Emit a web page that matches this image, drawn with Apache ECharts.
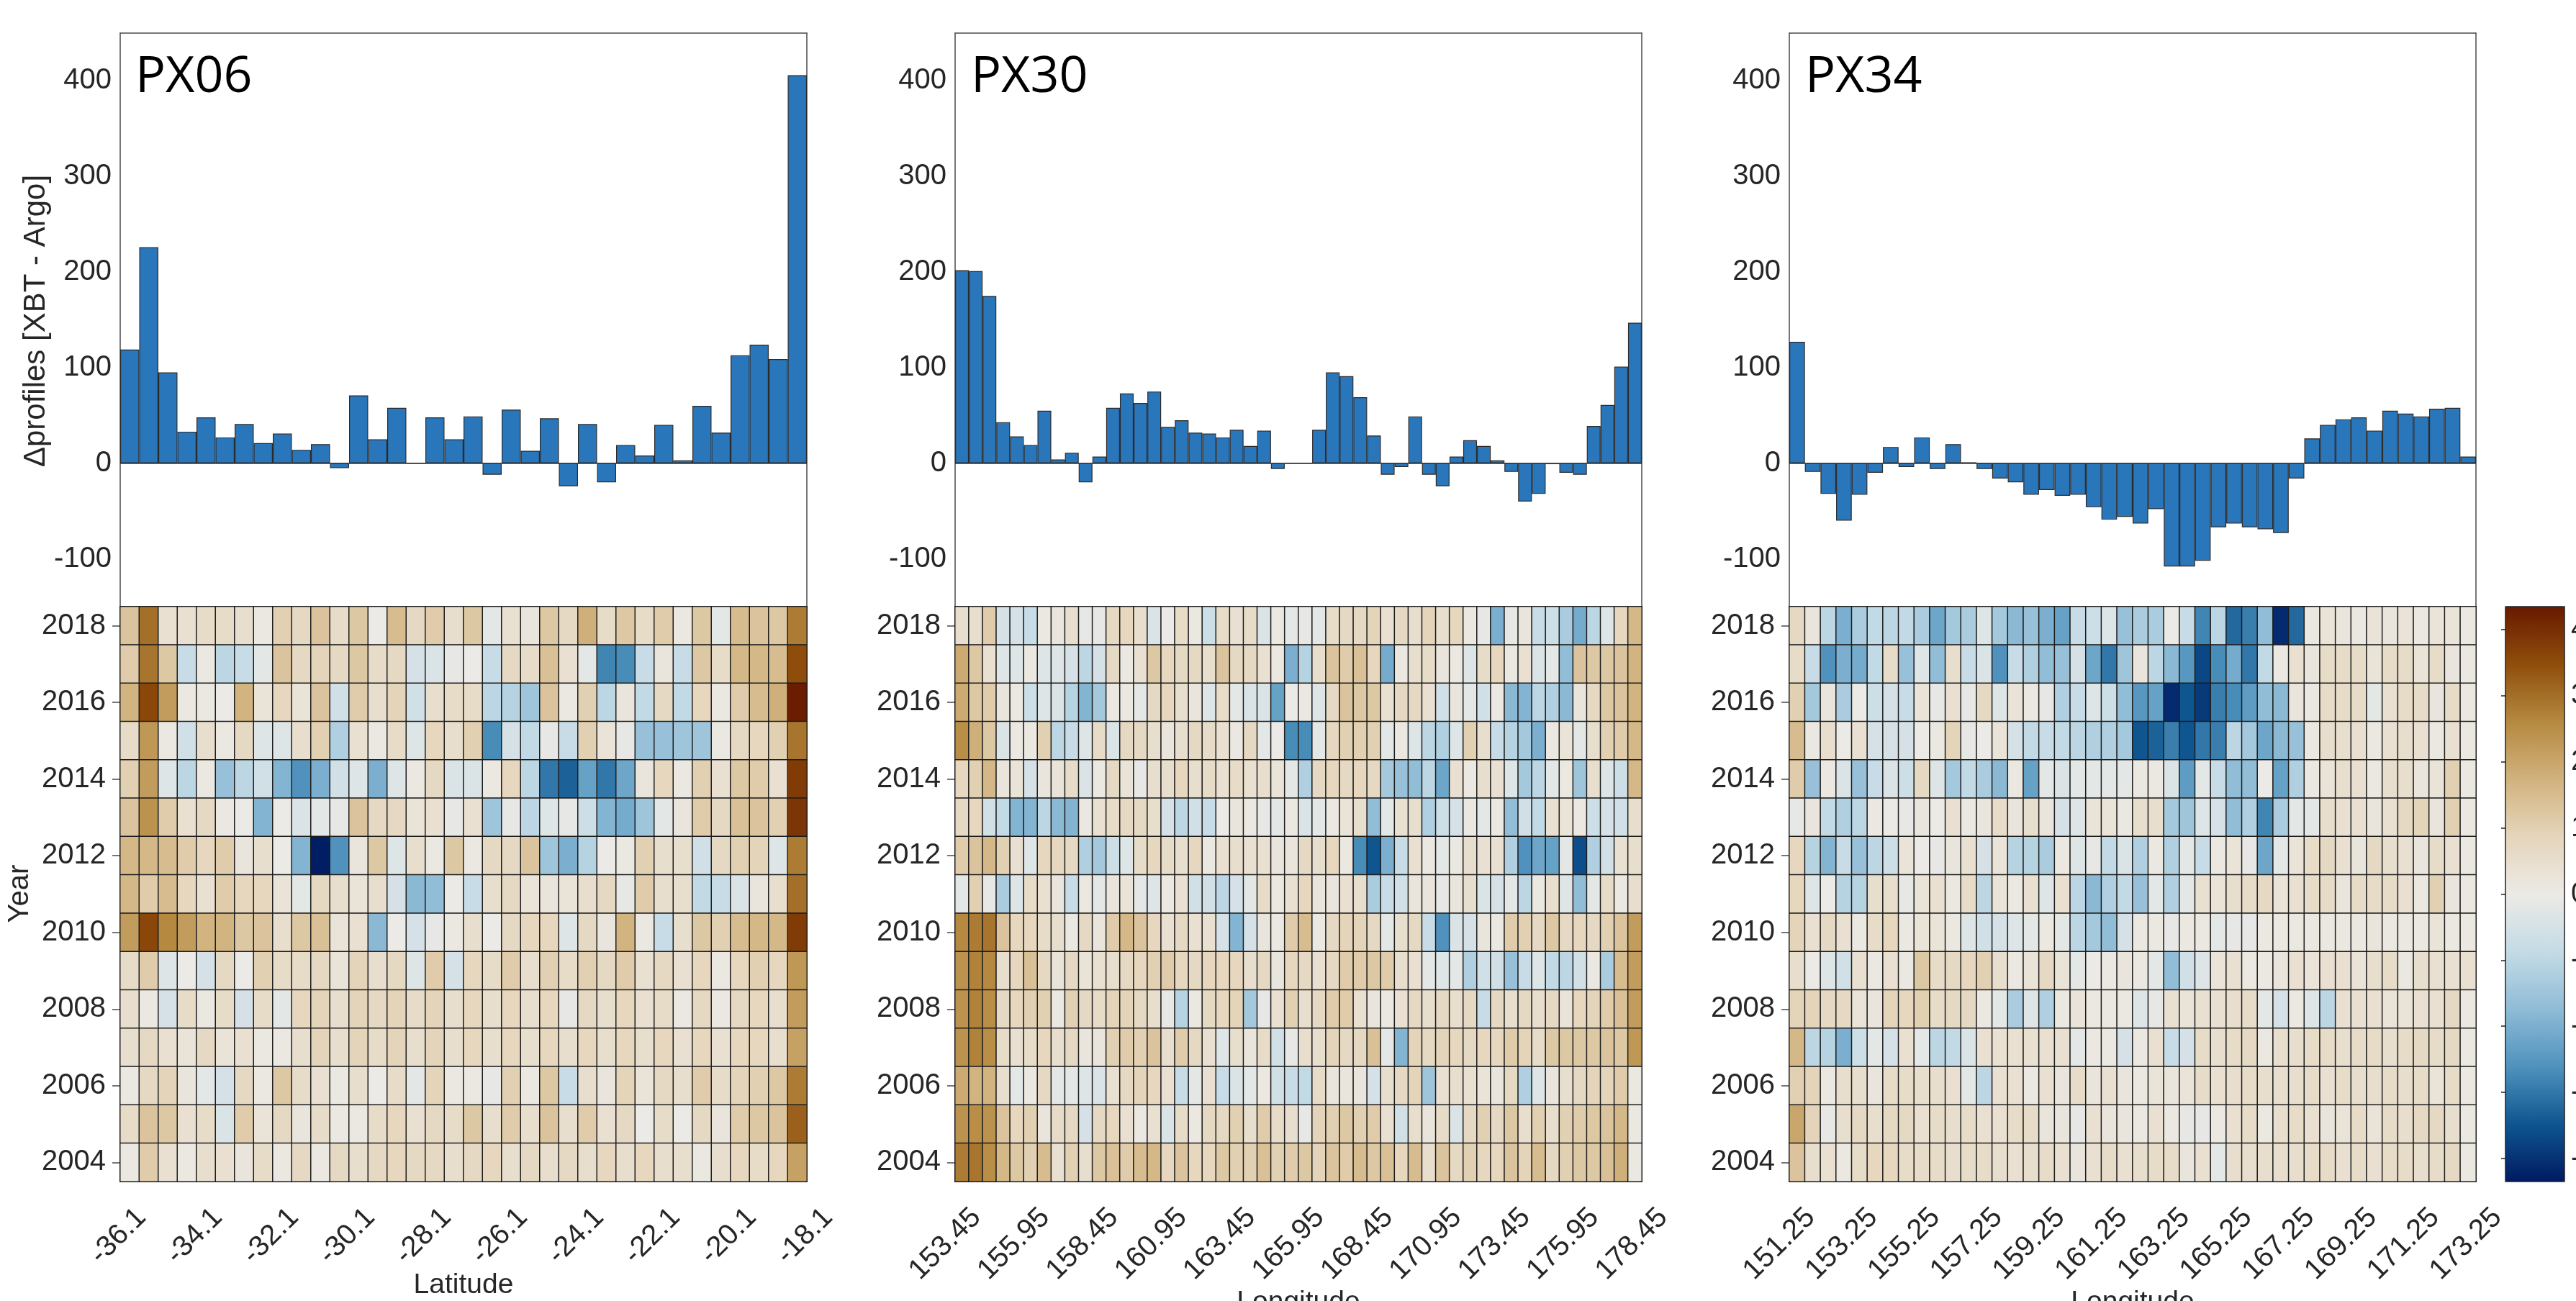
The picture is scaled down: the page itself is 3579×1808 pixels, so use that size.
<!DOCTYPE html>
<html><head><meta charset="utf-8">
<script src="https://cdn.jsdelivr.net/npm/echarts@6/dist/echarts.min.js"></script>
<style>html,body{margin:0;padding:0;background:#fff}#c{width:3579px;height:1808px}</style>
</head><body><div id="c"></div>
<script>
// ---------------- DATA ----------------
const years = [2004,2005,2006,2007,2008,2009,2010,2011,2012,2013,2014,2015,2016,2017,2018];
const px06TickLabels = ['-36.1','-34.1','-32.1','-30.1','-28.1','-26.1','-24.1','-22.1','-20.1','-18.1'];
const px30TickLabels = ['153.45','155.95','158.45','160.95','163.45','165.95','168.45','170.95','173.45','175.95','178.45'];
const px34TickLabels = ['151.25','153.25','155.25','157.25','159.25','161.25','163.25','165.25','167.25','169.25','171.25','173.25'];

// Δprofiles per bin
const px06Bars = [119,226,95,33,48,27,41,21,31,14,20,-5,71,25,58,0,48,25,49,-12,56,13,47,-24,41,-20,19,8,40,3,60,32,113,124,109,406];
const px30Bars = [202,201,175,43,28,19,55,4,11,-20,7,58,73,63,75,38,45,32,31,27,35,18,34,-6,0,0,35,95,91,69,29,-12,-4,49,-12,-24,7,24,18,3,-9,-40,-32,-1,-10,-12,39,61,101,147];
const px34Bars = [127,-9,-32,-60,-33,-10,17,-4,27,-6,20,1,-6,-16,-20,-33,-28,-34,-33,-46,-59,-56,-63,-48,-108,-108,-102,-67,-63,-67,-69,-73,-16,26,40,46,48,34,55,52,49,57,58,7];

// Heat-map anomalies, rows listed from 2018 (top) down to 2004 (bottom)
const px06Heat = [
[1.3,3.0,0.4,0.4,0.6,0.6,0.5,0.1,1.0,0.7,1.3,0.6,1.2,0.0,1.5,0.7,1.1,0.5,1.2,-0.2,0.4,0.2,1.2,0.7,1.8,0.6,1.2,0.6,1.1,0.1,1.2,-0.2,1.5,1.3,1.2,2.8],
[1.1,2.9,1.2,-0.8,0.1,-1.0,-0.8,-0.2,1.3,0.7,0.9,0.7,1.2,0.6,0.7,-0.5,-0.4,-0.1,0.0,-0.8,0.7,0.6,1.4,0.4,-0.2,-2.8,-2.7,-0.8,0.2,-0.8,1.2,0.6,1.6,1.6,1.5,3.5],
[1.7,3.6,2.2,0.1,0.1,0.0,1.7,0.3,0.8,0.3,1.3,-0.6,1.1,0.5,0.9,-0.6,0.5,0.6,0.6,-1.0,-1.1,-1.5,1.3,0.1,1.0,-1.0,0.2,-0.9,0.7,-0.9,0.8,0.1,1.1,1.5,1.8,4.3],
[0.6,2.3,0.1,-0.6,0.5,0.1,0.7,-0.3,-0.3,0.5,1.0,-1.2,0.4,0.1,0.6,-0.3,0.8,0.5,1.0,-2.7,-0.5,-0.9,-0.1,-0.8,1.0,0.3,-0.1,-1.6,-1.6,-1.5,-1.5,0.1,0.7,0.8,1.0,2.9],
[1.0,2.2,-0.3,-1.0,0.1,-1.6,-1.0,-0.6,-1.9,-2.6,-2.0,-0.6,-0.3,-2.0,-0.3,0.1,0.7,-0.4,-0.4,0.1,0.8,-1.0,-3.0,-3.3,-2.3,-3.0,-2.2,0.2,0.8,0.1,1.0,0.4,1.2,1.1,0.4,3.8],
[1.3,2.4,1.1,0.4,0.7,0.1,0.0,-1.9,0.0,-0.4,-0.2,-0.1,1.3,0.7,0.7,0.3,0.4,-0.1,0.4,-1.5,-0.1,-1.0,-0.3,-0.1,-0.7,-1.9,-2.1,-1.5,-0.2,0.2,1.1,0.7,1.4,1.3,1.0,3.9],
[1.6,1.6,1.5,1.1,0.8,1.1,0.2,0.5,0.0,-1.9,-4.3,-2.6,0.2,1.2,-0.3,0.5,0.1,1.2,0.1,0.7,0.7,1.3,-1.5,-2.0,-1.1,0.0,0.1,1.0,0.5,0.5,-0.6,0.7,1.0,0.9,-0.3,2.8],
[1.6,1.1,1.5,0.8,0.4,1.1,0.8,0.8,0.3,-0.2,0.7,0.5,0.3,0.5,-0.5,-1.8,-1.7,0.0,-0.8,0.5,0.7,0.3,0.2,0.3,0.5,0.7,-0.1,1.1,0.5,0.5,-0.9,-0.8,-0.4,0.2,0.5,3.0],
[2.2,3.6,2.6,2.2,1.7,1.7,1.2,1.3,0.5,1.2,1.4,0.3,0.4,-1.8,0.0,-0.5,-0.1,0.1,0.5,0.0,0.7,0.8,0.8,-0.3,0.7,0.2,1.7,0.1,-0.8,0.5,1.2,1.0,1.5,1.6,1.6,3.8],
[0.6,1.1,-0.3,0.0,-0.5,0.7,0.0,1.0,0.6,0.6,0.7,0.3,0.9,0.5,0.7,-0.3,1.1,-0.5,0.8,0.6,1.1,0.5,1.0,0.6,1.0,0.7,1.1,0.4,0.7,0.4,0.8,0.1,0.8,1.0,0.8,2.3],
[0.5,0.1,-0.5,0.6,0.1,0.6,-0.5,0.6,-0.2,0.8,0.9,0.5,0.9,0.7,0.9,0.6,0.9,0.5,0.8,0.5,0.8,0.5,0.8,-0.1,0.7,0.5,0.8,0.4,0.6,0.1,0.7,0.1,0.7,0.8,0.5,2.2],
[0.5,0.7,0.4,0.3,0.7,0.3,0.4,0.1,0.1,0.5,0.9,0.5,0.9,0.6,0.9,0.5,0.9,0.5,0.8,0.5,0.8,0.5,0.8,0.5,0.8,0.5,0.8,0.5,0.8,0.4,0.8,0.4,0.8,0.8,0.5,2.1],
[0.1,0.7,0.9,0.2,-0.2,-0.5,0.7,0.1,1.2,0.6,0.4,0.1,0.5,0.0,0.6,-0.2,0.9,0.1,0.1,-0.1,1.0,0.1,1.2,-0.8,0.5,0.2,0.9,0.3,0.7,0.5,1.1,0.6,0.9,1.0,1.2,2.8],
[0.6,1.3,1.2,0.4,0.6,-0.4,1.1,0.3,0.7,0.2,0.6,0.1,0.1,0.6,0.8,0.4,0.7,0.6,1.2,0.5,1.1,0.5,1.3,0.5,1.1,0.4,0.7,0.0,0.6,0.0,0.7,0.2,1.1,1.2,1.3,3.2],
[0.1,1.1,0.4,0.1,0.5,0.4,0.2,0.6,0.1,0.7,0.1,0.7,0.5,0.7,0.8,0.7,0.7,0.5,0.7,0.8,0.5,0.7,0.5,0.7,0.5,0.8,0.5,0.8,0.5,0.5,0.1,0.5,0.8,0.6,0.8,2.1]
];
const px30Heat = [
[0.5,0.5,1.1,-0.5,-0.5,-0.8,0.1,0.2,0.5,-0.1,-0.1,0.7,0.8,0.5,-0.4,0.0,0.6,0.1,-0.7,0.6,0.4,0.6,-0.4,0.1,-0.2,-0.1,-0.2,0.6,0.7,0.7,0.9,0.4,0.7,0.5,0.9,0.5,0.8,0.1,-0.1,-2.0,-0.1,0.2,-0.8,-0.7,-1.3,-2.1,-1.0,-0.3,0.8,1.6],
[1.9,1.2,0.4,-0.3,-0.3,0.1,-0.3,-0.3,-0.5,-1.0,-0.5,0.7,0.1,0.4,1.2,0.8,0.7,0.7,0.5,1.3,0.7,0.7,0.4,0.1,-2.0,-1.1,0.5,1.3,1.1,1.4,0.8,-2.1,0.1,0.5,0.6,0.2,0.1,-0.3,0.6,0.8,0.1,0.4,-0.4,-0.2,-1.7,1.3,1.2,1.2,1.3,1.7],
[1.9,1.2,1.1,0.2,0.1,-0.7,-0.3,-0.4,-1.1,-1.9,-1.4,0.1,0.1,-0.2,0.7,0.8,0.5,0.2,-0.3,0.6,-0.2,-0.4,-0.4,-2.3,0.0,0.1,-0.3,0.7,1.3,1.2,1.2,0.4,0.7,0.7,0.4,-0.6,0.2,-0.2,-0.6,0.1,-1.8,-1.9,-1.0,-1.2,-1.8,0.2,0.7,1.2,1.3,1.7],
[2.5,1.8,1.2,-0.4,0.1,0.1,1.0,-1.0,-0.8,-0.3,0.6,-0.4,0.7,0.7,0.5,0.2,0.5,0.7,0.6,0.4,0.1,0.7,-0.2,0.0,-2.7,-2.7,-0.2,0.8,1.0,1.0,1.0,-0.2,0.1,-0.3,-1.0,-1.2,-0.3,1.0,0.5,-0.8,-1.1,-1.4,-2.0,0.1,0.3,-0.2,0.5,1.0,1.1,1.6],
[0.8,1.0,1.6,0.2,0.3,-0.5,0.2,0.3,0.6,-0.4,0.1,0.7,0.3,-0.1,0.5,0.5,0.8,0.5,0.6,0.4,0.6,0.4,0.5,0.3,-0.2,-1.2,0.7,0.8,0.7,0.8,0.7,-1.4,-1.6,-1.7,-1.0,-2.2,0.4,0.1,0.5,0.4,-0.3,-1.4,-1.0,-0.2,0.1,-1.5,0.5,-0.3,-0.7,1.6],
[0.7,0.8,-0.6,-0.9,-1.9,-1.9,-1.0,-1.8,-1.9,0.1,0.4,0.6,0.7,0.7,0.5,-0.5,-1.0,-0.6,-0.8,0.0,0.2,0.1,-0.1,-0.2,0.1,-0.4,-0.2,0.1,0.3,0.5,-1.7,-0.2,0.4,0.5,-1.2,-0.7,-0.5,0.1,-0.2,0.1,-1.7,-0.6,-0.9,0.4,0.3,0.1,-0.7,-0.5,-0.6,0.5],
[1.1,1.3,1.6,1.0,0.4,-0.3,0.8,0.8,0.7,-1.2,-1.4,-0.7,-0.3,0.6,0.8,0.6,0.5,0.8,0.1,0.4,0.5,0.4,0.4,0.2,0.2,0.7,0.5,0.8,0.1,-2.7,-3.5,-2.0,-0.8,0.4,0.1,-0.2,0.1,0.5,0.4,0.4,-1.2,-2.6,-2.2,-2.3,-0.2,-3.6,-1.2,-0.6,0.4,0.5],
[-0.2,1.0,-0.1,-1.3,-0.3,0.6,0.4,0.2,-0.8,0.1,-0.2,0.2,0.3,-0.2,-0.3,0.1,0.4,-0.6,-0.6,-1.0,-0.5,-0.2,0.6,0.1,0.4,0.8,0.2,0.2,0.4,0.5,-1.3,-0.8,-0.6,0.2,0.2,-0.1,0.2,0.5,-0.4,-0.5,-0.2,-1.0,0.1,0.5,-0.3,-1.7,-0.2,0.6,0.1,0.5],
[2.6,2.8,2.9,1.3,0.8,0.8,0.6,0.5,0.1,0.7,0.2,1.1,1.6,1.3,0.8,0.4,0.7,0.4,0.4,-0.5,-1.9,-0.5,0.2,0.1,1.1,1.5,0.1,0.7,0.9,0.9,0.7,-0.2,0.5,0.7,-0.8,-2.6,-0.4,-0.5,0.2,0.1,1.1,1.0,0.7,1.2,0.7,0.8,0.7,1.0,1.3,2.2],
[2.4,2.7,2.6,0.5,0.8,1.4,0.7,0.3,0.7,0.3,0.4,0.5,0.7,0.8,1.0,1.1,0.8,0.7,0.8,0.8,0.8,0.5,0.7,0.2,0.8,0.7,0.4,0.7,1.1,1.1,1.2,1.1,0.5,0.4,-0.2,-0.3,-0.2,-1.2,-0.6,-0.6,-1.6,-0.8,-0.3,-0.9,-1.0,-0.6,0.1,-1.3,1.5,2.2],
[2.4,2.7,2.5,0.7,0.8,1.0,1.0,0.1,1.0,0.7,0.6,0.9,0.9,0.7,0.5,-0.1,-1.1,0.1,0.7,0.8,0.9,-1.4,-0.1,0.4,1.0,0.5,0.7,1.1,1.1,0.4,0.2,0.1,0.4,0.7,0.5,0.7,0.5,0.7,-0.8,0.7,0.5,0.7,0.5,0.7,0.3,0.8,0.9,1.1,1.4,2.2],
[2.4,2.7,2.5,0.6,0.4,0.6,0.8,0.5,0.7,0.2,0.2,1.0,1.1,1.0,1.3,0.5,1.1,0.7,0.4,-0.3,0.5,0.2,0.6,-0.6,-0.1,0.5,0.5,0.9,0.7,0.7,1.4,-0.2,-1.9,0.9,0.7,0.9,0.8,0.7,0.8,0.8,1.1,0.9,0.6,1.2,1.2,1.2,1.2,1.3,1.2,2.3],
[1.9,1.7,1.7,0.5,-0.2,0.1,0.7,-0.2,-0.2,-0.3,-0.4,0.4,0.7,0.9,0.8,0.4,-0.8,-0.2,0.4,-0.8,-0.4,-0.2,0.1,-0.6,-0.8,-0.9,0.6,0.2,0.2,0.2,-0.5,0.5,0.7,0.9,-1.5,0.4,0.5,0.4,0.3,0.2,0.7,-1.2,-0.3,0.2,0.5,0.7,0.9,0.9,1.1,0.1],
[2.4,2.5,2.4,1.3,0.8,1.0,0.2,0.6,0.7,-0.5,0.7,0.8,0.4,0.1,0.4,-0.4,0.6,0.1,0.7,0.7,1.0,0.5,1.1,0.6,0.5,-0.1,0.9,1.0,1.2,1.0,1.1,0.4,-0.6,0.5,0.2,0.6,-0.4,0.7,1.0,0.7,1.2,0.5,1.0,0.5,1.0,1.1,1.2,1.3,1.6,0.1],
[2.8,2.9,2.5,1.6,1.2,1.0,1.5,0.4,1.0,0.5,1.2,1.4,1.1,1.5,1.6,0.8,1.3,0.8,0.8,1.2,1.0,1.0,1.4,1.0,1.1,1.2,0.9,1.3,1.1,1.5,1.2,1.4,0.8,1.5,0.5,1.3,0.7,1.0,0.8,0.8,1.3,0.9,1.5,0.7,1.0,1.2,1.2,1.4,1.8,0.1]
];
const px34Heat = [
[0.7,0.2,-1.0,-2.0,-1.3,-0.9,-1.0,-0.9,-1.3,-2.2,-1.4,-1.3,-0.3,-1.4,-1.8,-1.6,-2.0,-2.3,-0.8,-0.7,-0.3,-1.6,-1.3,-1.3,0.0,-0.8,-2.8,-1.0,-3.2,-2.9,-1.7,-4.1,-3.2,0.1,0.3,0.2,0.1,0.3,0.2,0.3,0.1,0.3,0.3,0.1],
[0.6,-0.8,-2.6,-2.0,-2.1,-0.9,0.6,-1.6,-0.3,-1.7,0.5,-0.8,-0.4,-2.6,-0.8,-1.2,-1.7,-1.6,-0.5,-2.2,-3.0,-1.5,0.2,-1.0,-1.8,-2.5,-3.7,-2.7,-2.1,-3.0,-0.9,0.1,0.4,0.2,0.6,0.6,0.6,0.3,0.6,0.6,0.3,0.6,0.2,0.1],
[1.0,-1.4,0.2,-1.3,0.0,-0.7,-0.5,-0.8,0.3,-0.1,0.4,-0.1,0.7,-0.3,0.3,0.1,-0.1,-1.2,-0.8,-0.3,-0.7,-1.7,-2.5,-2.3,-4.1,-3.5,-3.9,-2.9,-2.7,-2.4,-1.7,-1.8,0.2,0.1,0.6,0.6,0.6,-0.2,0.4,0.6,0.6,0.2,0.6,0.1],
[1.5,0.1,0.5,0.0,0.4,-0.5,-0.5,-0.5,0.0,0.1,0.9,-0.1,0.0,0.3,-0.5,-0.9,-0.8,-0.9,-1.0,-1.2,-1.2,-1.4,-3.5,-3.3,-2.9,-3.5,-3.0,-2.9,-1.0,-1.4,-2.2,-1.8,-1.6,0.1,0.5,0.5,0.4,0.1,0.4,0.5,0.4,0.1,0.4,0.1],
[1.1,-1.6,0.1,-0.4,-1.6,-0.8,-0.4,-0.7,0.7,-0.3,-1.4,-0.9,-1.3,-1.8,0.1,-2.3,-0.2,-0.4,-0.2,-0.2,-0.2,-0.2,0.1,0.1,-0.4,-2.4,-0.2,-0.8,-1.7,-1.7,0.0,-2.3,-1.2,0.1,0.3,0.5,0.4,0.1,0.5,0.5,0.2,0.3,1.0,0.1],
[-0.1,0.2,-0.9,-1.2,-1.0,0.1,0.0,-0.1,0.2,0.0,0.4,0.1,0.2,0.6,0.2,0.5,0.2,-0.5,-0.3,0.3,0.3,0.1,0.5,0.5,-1.4,-1.5,-0.3,-0.5,-1.7,-1.2,-2.8,-1.3,-0.2,-0.2,0.5,0.4,0.4,0.2,0.4,0.7,0.9,0.2,1.0,0.1],
[0.8,-1.1,-1.9,-0.8,-1.6,-1.0,-0.7,0.3,0.0,-0.1,0.2,0.4,-0.5,0.3,-1.1,-1.1,-1.3,0.1,-0.3,-0.1,-0.9,-0.4,-1.2,0.1,-1.2,-0.2,-0.8,0.1,0.3,-0.1,-2.2,-0.2,0.3,0.6,0.7,0.4,0.2,0.7,0.5,0.4,0.2,0.6,0.4,0.1],
[0.8,-0.3,0.0,-1.1,-1.1,0.5,0.5,-0.1,0.3,0.4,0.1,0.6,-1.0,0.3,0.1,0.4,-0.3,0.4,-1.0,-1.8,-1.2,-0.9,-1.6,-0.2,-1.2,-0.2,0.4,0.3,0.5,0.6,0.7,0.3,0.4,0.6,0.6,0.2,0.6,0.6,0.6,0.4,0.1,1.0,0.2,0.1],
[0.9,0.4,0.7,0.4,0.1,0.6,0.8,0.1,0.3,0.3,0.1,-0.3,-0.6,-0.5,-0.3,-0.2,0.1,-0.2,-1.0,-1.4,-1.7,-0.5,0.1,0.1,-0.1,0.1,0.1,-0.2,-0.1,-0.1,0.1,0.1,0.1,0.1,0.1,0.1,0.1,0.2,0.1,0.1,0.1,0.3,0.1,0.1],
[0.5,0.0,-0.3,-0.6,0.4,0.1,0.4,0.1,1.2,0.6,0.7,0.8,1.0,0.5,0.1,0.3,0.7,0.3,-0.2,0.0,0.1,0.2,0.1,-0.2,-1.7,-0.6,-0.3,0.3,0.4,0.1,0.1,0.2,0.4,0.3,0.4,0.4,0.3,0.5,0.6,0.1,0.5,0.4,0.4,0.4],
[0.9,0.9,0.7,0.7,0.3,0.2,0.9,0.8,1.0,0.6,0.7,0.7,0.1,-0.2,-1.3,-0.3,-1.2,0.1,0.3,0.1,0.1,0.1,-0.3,-0.1,0.4,0.3,0.4,0.4,0.5,0.6,-0.2,-0.5,0.1,-0.3,-1.0,0.4,0.4,0.4,0.3,0.3,0.4,0.4,0.7,0.1],
[1.6,-1.0,-1.1,-2.0,-0.7,-0.2,-0.5,0.4,-0.2,-1.0,-0.9,-0.4,0.4,0.4,0.4,0.4,0.4,0.4,-0.2,0.1,0.1,-0.5,0.1,0.4,-0.8,-0.5,0.6,0.5,0.6,0.7,0.1,0.5,0.5,0.6,0.6,0.5,0.6,0.6,0.5,0.6,0.7,0.6,0.7,0.1],
[1.0,0.9,0.1,0.5,0.5,0.2,0.6,0.6,0.5,0.5,0.4,-0.2,-1.0,0.4,0.4,0.1,0.4,0.2,0.6,0.2,0.4,0.2,0.1,0.3,0.2,0.3,0.6,0.4,0.5,0.6,0.5,0.5,0.5,0.6,0.4,0.6,0.5,0.5,0.6,0.5,0.6,0.3,0.6,0.1],
[2.0,0.9,-0.1,0.5,0.7,0.5,0.7,0.7,0.4,0.6,0.5,0.6,0.4,0.4,0.6,0.6,0.2,0.2,-0.1,0.4,0.2,0.2,0.1,0.4,0.1,-0.1,-0.1,0.1,0.4,0.6,0.1,0.5,0.6,0.4,0.2,0.3,0.6,0.3,0.6,0.5,0.7,0.7,0.5,0.1],
[1.3,0.5,0.4,0.1,0.6,0.8,0.8,0.6,0.6,0.6,0.5,0.6,0.6,0.5,0.4,0.5,0.6,0.4,0.2,0.4,0.6,0.4,0.5,0.6,0.6,0.2,0.4,-0.2,0.5,0.5,0.5,0.5,0.5,0.6,0.6,0.4,0.6,0.4,0.6,0.6,0.5,0.6,0.7,0.1]
];
const colorTicks = [-4,-3,-2,-1,0,1,2,3,4];

// ---------------- LAYOUT / STYLE ----------------
const FONT = 'Liberation Sans';
const TXT = '#262626';
const AX = '#4a4a4a';
const TICK_FS = 40;
const LEFTS = [167, 1327, 2486];
const W = 954, BAR_TOP = 46, BAR_H = 797, HEAT_TOP = 843, HEAT_H = 799;
const cbarColors = ['#001a61','#0f5690','#4f92bd','#8fbcd6','#c4dbe6','#eceae6','#e5d5bb','#d1b27e','#b5893f','#8f4e0b','#681a00'];

const panels = [
  {bars: px06Bars, heat: px06Heat, ticks: px06TickLabels, step: 2},
  {bars: px30Bars, heat: px30Heat, ticks: px30TickLabels, step: 2.5},
  {bars: px34Bars, heat: px34Heat, ticks: px34TickLabels, step: 2}
];

const grid = [], xAxis = [], yAxis = [], series = [];
const lineStyle = {color: AX, width: 1.5};
const mkGrid = (left, top, width, height) => ({left, top, width, height, containLabel: false, outerBoundsMode: 'none'});

panels.forEach((p, i) => {
  const cats = p.bars.map((_, k) => String(k));
  grid.push(mkGrid(LEFTS[i], BAR_TOP, W, BAR_H));
  const g = grid.length - 1;
  xAxis.push({gridIndex: g, type: 'category', data: cats, position: 'bottom', boundaryGap: true,
    axisLine: {onZero: false, lineStyle}, axisTick: {inside: true, length: 9, interval: 0, lineStyle},
    axisLabel: {show: false}, splitLine: {show: false}});
  xAxis.push({gridIndex: g, type: 'category', data: cats, position: 'top', boundaryGap: true,
    axisLine: {onZero: false, lineStyle}, axisTick: {inside: true, length: 9, interval: 0, lineStyle},
    axisLabel: {show: false}, splitLine: {show: false}});
  yAxis.push({gridIndex: g, type: 'value', min: -150, max: 450, splitNumber: 6, position: 'left',
    axisLine: {show: true, lineStyle}, axisTick: {inside: true, length: 9, lineStyle},
    axisLabel: {fontSize: TICK_FS, fontFamily: FONT, color: TXT, margin: 12, showMinLabel: false, showMaxLabel: false,
      formatter: v => (Math.abs(v % 100) < 1e-6 ? String(v) : '')},
    splitLine: {show: false}});
  yAxis.push({gridIndex: g, type: 'value', min: -150, max: 450, splitNumber: 6, position: 'right',
    axisLine: {show: true, lineStyle}, axisTick: {inside: true, length: 9, lineStyle},
    axisLabel: {show: false}, splitLine: {show: false}});
  series.push({type: 'bar', xAxisIndex: xAxis.length - 2, yAxisIndex: yAxis.length - 2,
    data: p.bars, barWidth: '100%', barCategoryGap: 0, silent: true,
    itemStyle: {color: '#2a76bb', borderColor: '#2b2b2b', borderWidth: 1.2},
    markLine: {silent: true, symbol: 'none', label: {show: false},
      lineStyle: {color: '#333', width: 1.5, type: 'solid'}, data: [{yAxis: 0}]}});
});

const heatSeries = [];
panels.forEach((p, i) => {
  grid.push(mkGrid(LEFTS[i], HEAT_TOP, W, HEAT_H));
  const g = grid.length - 1;
  xAxis.push({gridIndex: g, type: 'category', data: p.heat[0].map((_, k) => String(k)), position: 'top', show: false});
  const catIdx = xAxis.length - 1;
  const lo = parseFloat(p.ticks[0]), hi = parseFloat(p.ticks[p.ticks.length - 1]);
  xAxis.push({gridIndex: g, type: 'value', min: lo, max: hi, interval: p.step, position: 'bottom',
    axisLine: {onZero: false, lineStyle}, axisTick: {length: 11, lineStyle},
    axisLabel: {fontSize: TICK_FS, fontFamily: FONT, color: TXT, rotate: 45, margin: 14,
      align: 'right', verticalAlign: 'top', padding: [22, 0, 0, 0],
      formatter: v => { const t = p.ticks.find(s => Math.abs(parseFloat(s) - v) < 1e-6); return t || ''; }},
    splitLine: {show: false}});
  yAxis.push({gridIndex: g, type: 'category', data: years.map(String), position: 'left',
    axisLine: {show: true, lineStyle},
    axisTick: {show: true, alignWithLabel: true, interval: 1, length: 11, lineStyle},
    axisLabel: {interval: 1, fontSize: TICK_FS, fontFamily: FONT, color: TXT, margin: 20}});
  const data = [];
  p.heat.forEach((row, r) => {
    const yi = years.length - 1 - r;
    row.forEach((v, c) => data.push([c, yi, v]));
  });
  heatSeries.push(series.length);
  series.push({type: 'heatmap', xAxisIndex: catIdx, yAxisIndex: yAxis.length - 1, data,
    silent: true, emphasis: {disabled: true},
    itemStyle: {borderColor: '#1c1c1c', borderWidth: 1.5}});
});

// colour-bar axis grid
grid.push(mkGrid(3481, HEAT_TOP, 82, HEAT_H));
const cg = grid.length - 1;
xAxis.push({gridIndex: cg, type: 'value', show: false, min: 0, max: 1});
yAxis.push({gridIndex: cg, type: 'value', min: -4.35, max: 4.35, splitNumber: 9, position: 'right', z: 10,
  axisLine: {show: false}, axisTick: {inside: true, length: 6, lineStyle: {color: '#222', width: 1.5}},
  axisLabel: {fontSize: TICK_FS, fontFamily: FONT, color: TXT, margin: 9, showMinLabel: false, showMaxLabel: false,
    formatter: v => (colorTicks.some(t => Math.abs(t - v) < 1e-6) ? String(Math.round(v)) : '')},
  splitLine: {show: false}});

const titleStyle = (t, x, y, fs, extra) => Object.assign({type: 'text', x, y, silent: true,
  style: {text: t, fontSize: fs, fontFamily: FONT, fill: TXT, align: 'center', verticalAlign: 'middle',
    textAlign: 'center', textVerticalAlign: 'middle'}}, extra || {});
const panelTitle = (t, x) => ({type: 'text', x, y: 108, silent: true,
  style: {text: t, fontSize: 70, fontFamily: 'Open Sans', fill: '#000', align: 'left', verticalAlign: 'middle',
    textAlign: 'left', textVerticalAlign: 'middle'}});

const graphic = [
  panelTitle('PX06', 188), panelTitle('PX30', 1349), panelTitle('PX34', 2508),
  titleStyle('\u0394profiles [XBT - Argo]', 50, 446, 42, {rotation: Math.PI / 2}),
  titleStyle('Year', 28, 1242, 40, {rotation: Math.PI / 2}),
  titleStyle('Latitude', 644, 1786, 39),
  titleStyle('Longitude', 1804, 1810, 39),
  titleStyle('Longitude', 2963, 1810, 39),
  {type: 'rect', z: 100, silent: true, shape: {x: 3481, y: HEAT_TOP, width: 82, height: HEAT_H},
    style: {fill: 'none', stroke: '#222', lineWidth: 1.5}}
];

const chart = echarts.init(document.getElementById('c'), null, {renderer: 'canvas'});
chart.setOption({
  animation: false,
  backgroundColor: '#fff',
  grid, xAxis, yAxis, series, graphic,
  visualMap: [{type: 'continuous', min: -4.35, max: 4.35, seriesIndex: heatSeries, calculable: false,
    orient: 'vertical', left: 3481, top: HEAT_TOP, itemWidth: 82, itemHeight: HEAT_H, padding: 0,
    text: null, showLabel: false, hoverLink: false,
    inRange: {color: cbarColors}}]
});
</script>
</body></html>
